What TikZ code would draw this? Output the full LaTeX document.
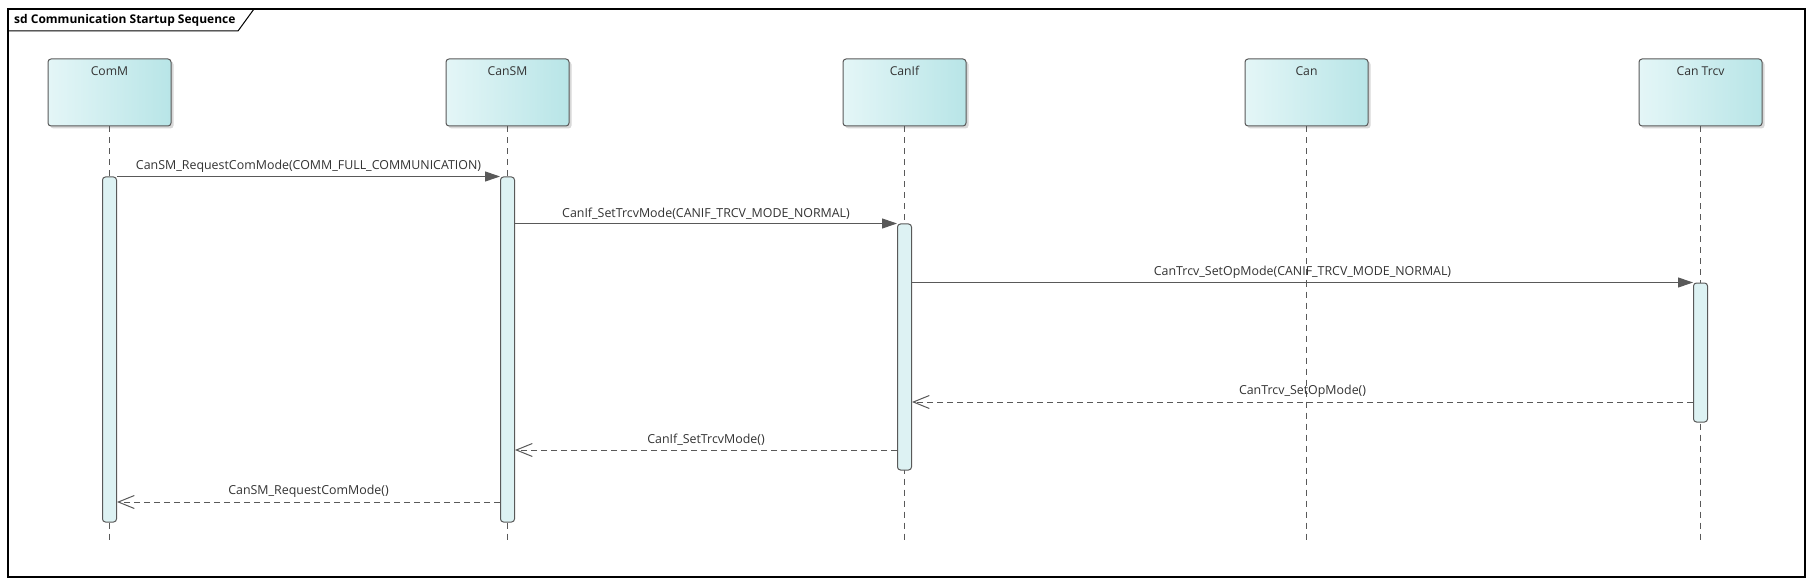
\documentclass[tikz,border=0pt]{standalone}
\usepackage{fontspec}
\setmainfont{Open Sans}
\usetikzlibrary{arrows.meta,shadows}
\definecolor{sd_line}{RGB}{89,89,89}
\definecolor{sd_text}{RGB}{51,51,51}
\definecolor{hd_left}{RGB}{228,246,247}
\definecolor{hd_right}{RGB}{184,229,231}
\definecolor{act_fill}{RGB}{221,242,243}
\tikzstyle{head}=[rectangle,rounded corners=3pt,draw=sd_line,left color=hd_left,right color=hd_right,
  line width=1pt,minimum width=123pt,minimum height=67pt,inner ysep=3pt,text height=14pt,text depth=47pt,
  font=\fontsize{12.2}{14}\selectfont,text=sd_text,drop shadow={shadow xshift=2.5pt,shadow yshift=-2.5pt,fill=black!30}]
\tikzstyle{act}=[rectangle,rounded corners=3pt,draw=sd_line,fill=act_fill,
  line width=1pt,minimum width=14pt,inner sep=0pt]
\tikzstyle{lifeline}=[draw=sd_line,line width=1pt,dash pattern=on 6pt off 5pt]
\tikzstyle{call}=[draw=sd_line,line width=1pt,-{Triangle[length=15pt,width=10pt,fill=sd_line]}]
\tikzstyle{ret}=[draw=sd_line,line width=1pt,dash pattern=on 6pt off 4pt,-{Straight Barb[length=16pt,width=13pt]}]
\tikzstyle{msg}=[font=\fontsize{12.4}{14}\selectfont,text=sd_text,above=3pt,inner sep=1pt]

\begin{document}
\begin{tikzpicture}[x=1pt,y=-1pt]
        \useasboundingbox[fill=white] (0,0) rectangle (1814,585);
        \draw [line width=1.2pt] (8,9) rectangle (1805,577);
        \draw [line width=1pt] (8,31) -- (238,31) -- (254,9);
        \node [anchor=west,font=\bfseries\fontsize{12}{14}\selectfont,inner sep=0pt] (title) at (14,20) {sd Communication Startup Sequence};
        \node [style=head] (comm) at (109.5,92.5) {ComM};
        \node [style=head] (cansm) at (507.5,92.5) {CanSM};
        \node [style=head] (canif) at (904.5,92.5) {CanIf};
        \node [style=head] (can) at (1306.5,92.5) {Can};
        \node [style=head] (cantrcv) at (1700.5,92.5) {Can Trcv};
        \coordinate (lend) at (0,543);
        \draw [lifeline] (comm) -- (comm |- lend);
        \draw [lifeline] (cansm) -- (cansm |- lend);
        \draw [lifeline] (canif) -- (canif |- lend);
        \draw [lifeline] (can) -- (can |- lend);
        \draw [lifeline] (cantrcv) -- (cantrcv |- lend);
        \node [style=act,minimum height=345pt] (act_comm) at (109.5,349.5) {};
        \node [style=act,minimum height=345pt] (act_cansm) at (507.5,349.5) {};
        \node [style=act,minimum height=246pt] (act_canif) at (904.5,347) {};
        \node [style=act,minimum height=139pt] (act_cantrcv) at (1700.5,352.5) {};
        \coordinate (r1) at (0,402);
        \coordinate (r2) at (0,450);
        \coordinate (r3) at (0,502);
        \draw [call] (act_comm.north east) -- node [msg] (l1) {CanSM\_RequestComMode(COMM\_FULL\_COMMUNICATION)} (act_cansm.north west);
        \draw [call] (act_cansm.east |- act_canif.north) -- node [msg] (l2) {CanIf\_SetTrcvMode(CANIF\_TRCV\_MODE\_NORMAL)} (act_canif.north west);
        \draw [call] (act_canif.east |- act_cantrcv.north) -- node [msg] (l3) {CanTrcv\_SetOpMode(CANIF\_TRCV\_MODE\_NORMAL)} (act_cantrcv.north west);
        \draw [ret] (act_cantrcv.west |- r1) -- node [msg] (l4) {CanTrcv\_SetOpMode()} (act_canif.east |- r1);
        \draw [ret] (act_canif.west |- r2) -- node [msg] (l5) {CanIf\_SetTrcvMode()} (act_cansm.east |- r2);
        \draw [ret] (act_cansm.west |- r3) -- node [msg] (l6) {CanSM\_RequestComMode()} (act_comm.east |- r3);
    \end{tikzpicture}
\end{document}
